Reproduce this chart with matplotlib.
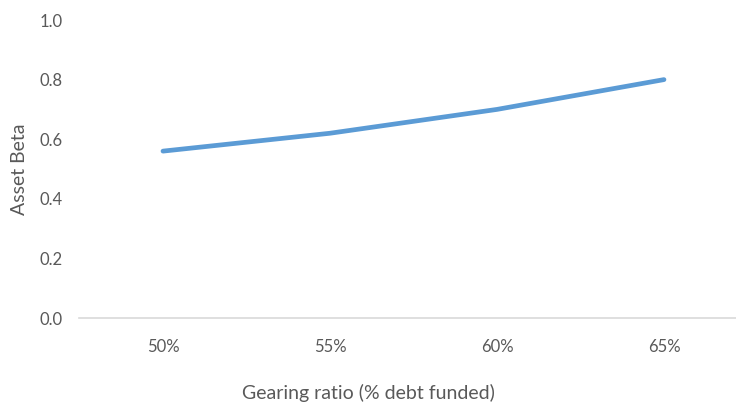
import matplotlib.pyplot as plt

gearing = ['50%', '55%', '60%', '65%']
asset_beta = [0.56, 0.62, 0.70, 0.80]
y_ticks = [0.0, 0.2, 0.4, 0.6, 0.8, 1.0]

plt.rcParams['font.family'] = ['Lato', 'DejaVu Sans']
text_color = '#595959'

fig = plt.figure(figsize=(7.36, 4.05), dpi=100)
# axes runs slightly off the right edge, like the original export
ax = fig.add_axes([0.108, 0.2148, 0.9076, 0.7358])

x = range(len(gearing))
ax.plot(x, asset_beta, color='#5B9BD5', linewidth=3.4, solid_capstyle='round',
        solid_joinstyle='round')

ax.set_xlim(-0.5, len(gearing) - 0.5)
ax.set_ylim(0, 1.0)
ax.set_xticks(list(x))
ax.set_xticklabels(gearing)
ax.set_yticks(y_ticks)
ax.set_yticklabels([f'{v:.1f}' for v in y_ticks])

for side in ['left', 'right', 'top']:
    ax.spines[side].set_visible(False)
ax.spines['bottom'].set_color('#D9D9D9')
ax.spines['bottom'].set_linewidth(1.2)

ax.tick_params(axis='both', length=0, labelsize=12, colors=text_color)
ax.tick_params(axis='x', pad=15)
ax.tick_params(axis='y', pad=12)

# axis titles placed in figure coords (centred on the visible chart)
ax.set_xlabel('Gearing ratio (% debt funded)', fontsize=14, color=text_color)
ax.xaxis.set_label_coords(0.5, 0.052, transform=fig.transFigure)
ax.set_ylabel('Asset Beta', fontsize=14, color=text_color)
ax.yaxis.set_label_coords(0.0375, 0.583, transform=fig.transFigure)

fig.savefig('out.png', dpi=100)
